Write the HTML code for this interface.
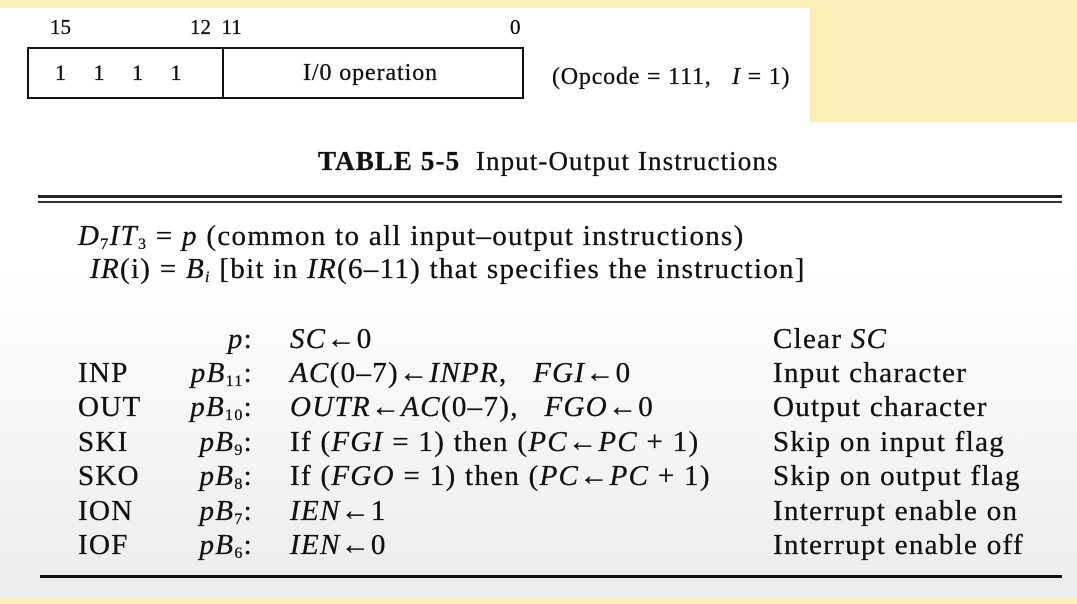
<!DOCTYPE html>
<html><head><meta charset="utf-8">
<style>
html,body{margin:0;padding:0;}
body{width:1077px;height:604px;position:relative;overflow:hidden;background:#fcefb6;font-family:"Liberation Serif",serif;color:#111;}
.page{position:absolute;left:0;top:8px;width:810px;height:114px;background:#fff;}
.page2{position:absolute;left:0;top:122px;width:1077px;height:476px;background:linear-gradient(#fff 0%,#fff 30%,#ececec 100%);}
.t{position:absolute;white-space:nowrap;line-height:1;-webkit-text-stroke:0.3px #111;}
.r{font-size:29px;letter-spacing:1.3px;}
i{font-style:italic;}
sub{font-size:16px;vertical-align:-4px;line-height:0;}
</style></head>
<body>
<div class="page"></div>
<div class="page2"></div>

<div class="t" style="left:50px;top:17px;font-size:21px">15</div>
<div class="t" style="left:190px;top:17px;font-size:21px">12&nbsp; 11</div>
<div class="t" style="left:510px;top:17px;font-size:21px">0</div>
<div style="position:absolute;left:27px;top:47px;width:493px;height:48px;border:2px solid #111;"></div>
<div style="position:absolute;left:222px;top:47px;width:2px;height:52px;background:#111;"></div>
<div class="t" style="left:55px;top:62px;font-size:22px;word-spacing:22px">1 1 1 1</div>
<div class="t" style="left:303px;top:61px;font-size:24px;letter-spacing:0.9px">I/0 operation</div>
<div class="t" style="left:552px;top:65px;font-size:24px;letter-spacing:0.8px">(Opcode = 111,&nbsp;&nbsp; <i>I</i> = 1)</div>

<div class="t" style="left:318px;top:148px;font-size:27px;letter-spacing:1.1px"><b>TABLE 5-5</b>&nbsp; Input-Output Instructions</div>
<div style="position:absolute;left:38px;top:195px;width:1024px;height:3px;background:#222"></div>
<div style="position:absolute;left:38px;top:201px;width:1024px;height:2px;background:#333"></div>

<div class="t r" style="left:78px;top:222px"><i>D</i><sub>7</sub><i>IT</i><sub>3</sub> = <i>p</i> (common to all input–output instructions)</div>
<div class="t r" style="left:90px;top:255px"><i>IR</i>(i) = <i>B<sub>i</sub></i> [bit in <i>IR</i>(6–11) that specifies the instruction]</div>

<div>
<div class="t r" style="left:78px;top:359px">INP</div>
<div class="t r" style="left:78px;top:393px">OUT</div>
<div class="t r" style="left:78px;top:428px">SKI</div>
<div class="t r" style="left:78px;top:462px">SKO</div>
<div class="t r" style="left:78px;top:497px">ION</div>
<div class="t r" style="left:78px;top:531px">IOF</div>

<div class="t r" style="right:824px;top:325px"><i>p</i>:</div>
<div class="t r" style="right:824px;top:359px"><i>pB</i><sub>11</sub>:</div>
<div class="t r" style="right:824px;top:393px"><i>pB</i><sub>10</sub>:</div>
<div class="t r" style="right:824px;top:428px"><i>pB</i><sub>9</sub>:</div>
<div class="t r" style="right:824px;top:462px"><i>pB</i><sub>8</sub>:</div>
<div class="t r" style="right:824px;top:497px"><i>pB</i><sub>7</sub>:</div>
<div class="t r" style="right:824px;top:531px"><i>pB</i><sub>6</sub>:</div>

<div class="t r" style="left:290px;top:325px"><i>SC</i>←0</div>
<div class="t r" style="left:290px;top:359px"><i>AC</i>(0–7)←<i>INPR</i>,&nbsp;&nbsp; <i>FGI</i>←0</div>
<div class="t r" style="left:290px;top:393px"><i>OUTR</i>←<i>AC</i>(0–7),&nbsp;&nbsp; <i>FGO</i>←0</div>
<div class="t r" style="left:290px;top:428px">If (<i>FGI</i> = 1) then (<i>PC</i>←<i>PC</i> + 1)</div>
<div class="t r" style="left:290px;top:462px">If (<i>FGO</i> = 1) then (<i>PC</i>←<i>PC</i> + 1)</div>
<div class="t r" style="left:290px;top:497px"><i>IEN</i>←1</div>
<div class="t r" style="left:290px;top:531px"><i>IEN</i>←0</div>

<div class="t r" style="left:773px;top:325px">Clear <i>SC</i></div>
<div class="t r" style="left:773px;top:359px">Input character</div>
<div class="t r" style="left:773px;top:393px">Output character</div>
<div class="t r" style="left:773px;top:428px">Skip on input flag</div>
<div class="t r" style="left:773px;top:462px">Skip on output flag</div>
<div class="t r" style="left:773px;top:497px">Interrupt enable on</div>
<div class="t r" style="left:773px;top:531px">Interrupt enable off</div>
</div>

<div style="position:absolute;left:40px;top:575px;width:1022px;height:3px;background:#111"></div>
</body></html>
